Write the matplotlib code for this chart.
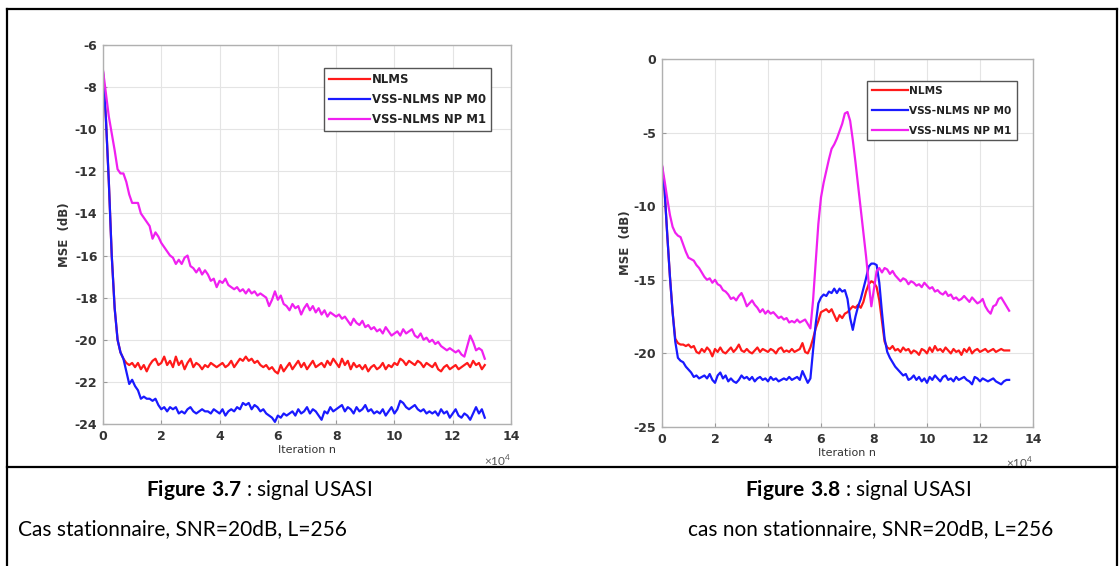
import numpy as np
import matplotlib
import matplotlib.pyplot as plt
from matplotlib.lines import Line2D
matplotlib.use('Agg')

plt.rcParams['axes.unicode_minus'] = False
plt.rcParams['mathtext.fontset'] = 'custom'
plt.rcParams['mathtext.rm'] = 'Lato'
plt.rcParams['mathtext.bf'] = 'Lato:bold'

# iteration axis, in units of 1e4 (0 .. 13.1)
n_iter = np.round(np.arange(132) * 0.1, 1)

# --- Figure 3.7 : stationary case ---
st_nlms = [-7.3, -9.5, -12.5, -16.0, -18.5, -20.0, -20.6, -20.9, -21.1, -21.2,
           -21.1, -21.3, -21.1, -21.4, -21.2, -21.5, -21.2, -21.0, -20.9, -21.2,
           -21.1, -20.8, -21.2, -21.0, -21.3, -20.8, -21.2, -21.0, -21.4, -21.1,
           -20.9, -21.3, -21.1, -21.2, -21.4, -21.2, -21.3, -21.1, -21.2, -21.3,
           -21.2, -21.1, -21.3, -21.2, -21.0, -21.3, -21.1, -20.9, -21.0, -20.8,
           -21.0, -20.9, -21.1, -21.0, -21.2, -21.3, -21.2, -21.4, -21.3, -21.5,
           -21.6, -21.2, -21.5, -21.3, -21.1, -21.4, -21.2, -21.0, -21.3, -21.1,
           -21.4, -21.2, -21.0, -21.3, -21.2, -21.1, -21.3, -21.0, -21.2, -20.9,
           -21.1, -21.3, -20.9, -21.2, -21.0, -21.4, -21.1, -21.3, -21.2, -21.4,
           -21.2, -21.5, -21.3, -21.2, -21.4, -21.3, -21.1, -21.4, -21.2, -21.3,
           -21.1, -21.2, -20.9, -21.0, -21.2, -21.0, -21.1, -21.2, -21.0, -21.1,
           -21.3, -21.1, -21.2, -21.3, -21.1, -21.4, -21.5, -21.3, -21.2, -21.4,
           -21.3, -21.2, -21.4, -21.3, -21.2, -21.1, -21.3, -21.0, -21.2, -21.1,
           -21.4, -21.2]
st_m0 = [-7.3, -9.5, -12.5, -16.0, -18.5, -20.0, -20.6, -20.9, -21.5, -22.1,
         -21.9, -22.2, -22.4, -22.8, -22.7, -22.8, -22.8, -22.9, -22.8, -23.1,
         -23.3, -23.2, -23.4, -23.2, -23.3, -23.2, -23.5, -23.4, -23.5, -23.3,
         -23.2, -23.4, -23.5, -23.4, -23.3, -23.4, -23.4, -23.5, -23.3, -23.4,
         -23.5, -23.3, -23.6, -23.4, -23.3, -23.4, -23.2, -23.3, -23.0, -23.1,
         -23.0, -23.3, -23.1, -23.2, -23.4, -23.3, -23.5, -23.6, -23.7, -23.9,
         -23.6, -23.7, -23.5, -23.6, -23.5, -23.4, -23.6, -23.3, -23.5, -23.4,
         -23.2, -23.5, -23.3, -23.4, -23.6, -23.8, -23.4, -23.5, -23.2, -23.4,
         -23.3, -23.2, -23.1, -23.4, -23.2, -23.3, -23.5, -23.2, -23.4, -23.3,
         -23.1, -23.4, -23.3, -23.5, -23.4, -23.5, -23.3, -23.6, -23.4, -23.2,
         -23.5, -23.3, -22.9, -23.0, -23.2, -23.3, -23.2, -23.1, -23.3, -23.4,
         -23.3, -23.5, -23.4, -23.5, -23.4, -23.6, -23.3, -23.5, -23.4, -23.7,
         -23.5, -23.3, -23.6, -23.7, -23.5, -23.6, -23.8, -23.5, -23.2, -23.5,
         -23.3, -23.7]
st_m1 = [-7.2, -8.3, -9.4, -10.2, -11.0, -11.9, -12.1, -12.1, -12.5, -13.1,
         -13.5, -13.5, -13.5, -14.0, -14.2, -14.4, -14.6, -15.2, -14.9, -15.1,
         -15.4, -15.6, -15.8, -16.0, -16.1, -16.4, -16.2, -16.4, -16.1, -16.0,
         -16.5, -16.6, -16.8, -16.6, -16.9, -16.7, -16.9, -17.2, -17.1, -17.5,
         -17.2, -17.3, -17.1, -17.4, -17.5, -17.6, -17.5, -17.7, -17.6, -17.8,
         -17.6, -17.8, -17.7, -17.9, -17.8, -17.9, -18.0, -18.4, -18.1, -17.7,
         -18.1, -17.9, -18.3, -18.4, -18.6, -18.3, -18.5, -18.4, -18.8, -18.5,
         -18.3, -18.6, -18.4, -18.7, -18.5, -18.8, -18.6, -18.9, -18.7, -18.8,
         -18.9, -18.8, -19.0, -18.9, -19.1, -19.3, -19.0, -19.2, -19.3, -19.1,
         -19.4, -19.3, -19.5, -19.4, -19.6, -19.5, -19.7, -19.4, -19.6, -19.8,
         -19.7, -19.6, -19.8, -19.5, -19.7, -19.6, -19.5, -19.8, -19.9, -19.7,
         -20.0, -19.9, -20.1, -20.0, -20.2, -20.1, -20.3, -20.4, -20.5, -20.4,
         -20.5, -20.6, -20.5, -20.7, -20.8, -20.3, -19.8, -20.1, -20.5, -20.4,
         -20.5, -20.9]

# --- Figure 3.8 : non-stationary case ---
ns_nlms = [-7.3, -9.0, -12.0, -14.8, -17.2, -19.0, -19.3, -19.4, -19.4, -19.5,
           -19.4, -19.6, -19.5, -19.9, -20.0, -19.7, -19.9, -19.6, -19.8, -20.2,
           -19.7, -19.9, -19.6, -19.9, -20.0, -19.8, -19.6, -19.9, -19.7, -19.4,
           -19.8, -19.9, -19.7, -19.9, -20.0, -19.8, -19.6, -19.9, -19.7, -19.8,
           -19.9, -19.7, -19.8, -20.0, -19.7, -19.6, -19.9, -19.8, -19.9, -19.7,
           -19.9, -19.8, -19.7, -19.3, -19.9, -20.0, -19.6, -19.0, -18.3, -17.8,
           -17.2, -17.1, -17.0, -17.2, -17.0, -17.4, -17.8, -17.4, -17.6, -17.3,
           -17.2, -17.0, -16.8, -16.9, -16.7, -16.9, -16.5, -15.8, -15.3, -15.1,
           -15.2, -15.5, -16.4, -17.8, -19.2, -19.6, -19.7, -19.5, -19.8, -19.7,
           -19.9, -19.6, -19.8, -19.7, -20.0, -19.8, -19.9, -20.1, -19.7, -19.8,
           -20.0, -19.6, -19.9, -19.5, -19.8, -19.7, -19.9, -19.6, -19.8, -20.0,
           -19.7, -19.9, -19.8, -20.1, -19.7, -19.9, -19.6, -20.0, -19.8, -19.7,
           -19.9, -19.8, -19.7, -19.9, -19.8, -19.7, -19.9, -19.8, -19.7, -19.8,
           -19.8, -19.8]
ns_m0 = [-7.3, -9.0, -12.0, -14.8, -17.2, -19.2, -20.3, -20.5, -20.6, -20.9,
         -21.1, -21.3, -21.6, -21.5, -21.7, -21.6, -21.5, -21.7, -21.4, -21.8,
         -22.0, -21.5, -21.3, -21.7, -21.5, -21.9, -21.7, -21.9, -22.0, -21.8,
         -21.5, -21.7, -21.6, -21.8, -21.6, -21.9, -21.7, -21.6, -21.8, -21.7,
         -21.9, -21.6, -21.8, -21.7, -21.9, -21.8, -21.7, -21.8, -21.6, -21.8,
         -21.7, -21.6, -21.8, -21.2, -21.6, -22.0, -21.7, -19.8, -18.0, -16.6,
         -16.2, -16.0, -16.1, -15.8, -15.9, -15.6, -15.9, -15.6, -15.8, -15.7,
         -16.3, -17.6, -18.4, -17.5, -16.8, -16.3, -15.6, -14.9, -14.1, -13.9,
         -13.9, -14.0, -15.2, -17.2, -19.0, -19.9, -20.3, -20.6, -20.9, -21.1,
         -21.3, -21.5, -21.4, -21.8, -21.7, -21.5, -21.8, -21.6, -21.9, -21.7,
         -22.0, -21.6, -21.8, -21.5, -21.7, -21.9, -21.6, -21.5, -21.8, -21.7,
         -21.9, -21.6, -21.8, -21.7, -21.6, -21.8, -21.9, -22.1, -21.6, -21.7,
         -21.9, -21.7, -21.8, -21.9, -21.8, -21.7, -21.9, -22.0, -22.1, -21.9,
         -21.8, -21.8]
ns_m1 = [-7.2, -8.3, -9.5, -10.6, -11.4, -11.8, -12.0, -12.1, -12.6, -13.1,
         -13.5, -13.6, -13.7, -14.0, -14.2, -14.5, -14.8, -15.0, -14.9, -15.2,
         -15.0, -15.3, -15.4, -15.7, -15.8, -16.0, -16.3, -16.2, -16.4, -16.1,
         -15.9, -16.3, -16.8, -16.6, -16.4, -16.7, -16.9, -17.2, -17.0, -17.3,
         -17.1, -17.3, -17.2, -17.4, -17.6, -17.5, -17.7, -17.6, -17.9, -17.8,
         -17.9, -17.7, -17.9, -17.8, -17.7, -18.0, -18.3, -16.4, -13.8, -11.2,
         -9.4, -8.4, -7.6, -6.8, -6.1, -5.8, -5.4, -4.9, -4.4, -3.7,
         -3.6, -4.2, -5.5, -7.0, -8.6, -10.2, -11.8, -13.4, -15.2, -16.8,
         -15.6, -14.4, -14.2, -14.5, -14.2, -14.3, -14.6, -14.4, -14.7, -14.9,
         -15.1, -14.9, -15.0, -15.3, -15.1, -15.2, -15.4, -15.3, -15.5, -15.2,
         -15.4, -15.6, -15.5, -15.8, -15.7, -15.9, -16.0, -15.8, -16.1, -16.0,
         -16.3, -16.2, -16.4, -16.3, -16.1, -16.3, -16.5, -16.2, -16.4, -16.6,
         -16.5, -16.3, -16.8, -17.1, -17.3, -16.8, -16.7, -16.3, -16.2, -16.5,
         -16.8, -17.1]

labels = ['NLMS', 'VSS-NLMS NP M0', 'VSS-NLMS NP M1']
colors = ['#ff1a1a', '#1a1aff', '#f020f0']

fig = plt.figure(figsize=(11.2, 5.66), dpi=100)
tick_col = '#333333'


def draw_panel(rect, series, ylim, yticks, legend_anchor, ylabelpad, leg_fs,
               leg_hl, leg_ls):
    ax = fig.add_axes(rect)
    for y, c, lab in zip(series, colors, labels):
        ax.plot(n_iter, y, color=c, lw=1.6, label=lab)
    ax.set_xlim(0, 14)
    ax.set_ylim(*ylim)
    ax.set_xticks(range(0, 15, 2))
    ax.set_yticks(yticks)
    ax.grid(color='#e4e4e4', lw=0.8)
    ax.set_axisbelow(True)
    for s in ax.spines.values():
        s.set_color('#b0b0b0')
        s.set_linewidth(1.0)
    ax.tick_params(direction='in', length=3, color='#999999', labelcolor=tick_col,
                   labelsize=9, pad=4)
    for t in ax.get_xticklabels() + ax.get_yticklabels():
        t.set_fontweight('bold')
    ax.set_xlabel('Iteration n', fontsize=8, color=tick_col, labelpad=2)
    ax.set_ylabel('MSE  (dB)', fontsize=8.5, fontweight='bold', color=tick_col,
                  labelpad=ylabelpad)
    ax.text(1.0, -0.10, r'$\times10^4$', transform=ax.transAxes, fontsize=8.5,
            color='#555555', ha='right', va='center')
    leg = ax.legend(loc='upper right', bbox_to_anchor=legend_anchor, fontsize=leg_fs,
                    handlelength=leg_hl, handletextpad=0.15, borderpad=0.45,
                    labelspacing=leg_ls, fancybox=False, framealpha=1)
    leg.get_frame().set_edgecolor('#555555')
    leg.get_frame().set_linewidth(1.0)
    for t in leg.get_texts():
        t.set_fontweight('bold')
        t.set_color('#222222')
    return ax


draw_panel([103 / 1120, 1 - 424 / 566, 408 / 1120, 379 / 566],
           [st_nlms, st_m0, st_m1], (-24, -6), range(-24, -5, 2), (0.966, 0.955), 3,
           8.4, 3.5, 0.6)
draw_panel([662 / 1120, 1 - 427 / 566, 371 / 1120, 368 / 566],
           [ns_nlms, ns_m0, ns_m1], (-25, 0), range(-25, 1, 5), (0.97, 0.955), 1,
           7.6, 3.4, 0.95)

# table borders around the two figures
for xs, ys in [([7, 1117], [9, 9]), ([7, 7], [9, 566]), ([1117, 1117], [9, 566]),
               ([7, 1117], [467, 467])]:
    fig.add_artist(Line2D([x / 1120 for x in xs], [1 - y / 566 for y in ys],
                          color='black', lw=1.6))

cap = dict(fontsize=15, family='Lato', ha='left', va='center', color='black')
fig.text(146 / 1120, 1 - 490 / 566, r'$\bf{Figure\ 3.7}$ : signal USASI', **cap)
fig.text(18 / 1120, 1 - 529 / 566, 'Cas stationnaire, SNR=20dB, L=256', **cap)
fig.text(745 / 1120, 1 - 490 / 566, r'$\bf{Figure\ 3.8}$ : signal USASI', **cap)
fig.text(688 / 1120, 1 - 529 / 566, 'cas non stationnaire, SNR=20dB, L=256', **cap)

fig.savefig('out.png', dpi=100, facecolor='white')
